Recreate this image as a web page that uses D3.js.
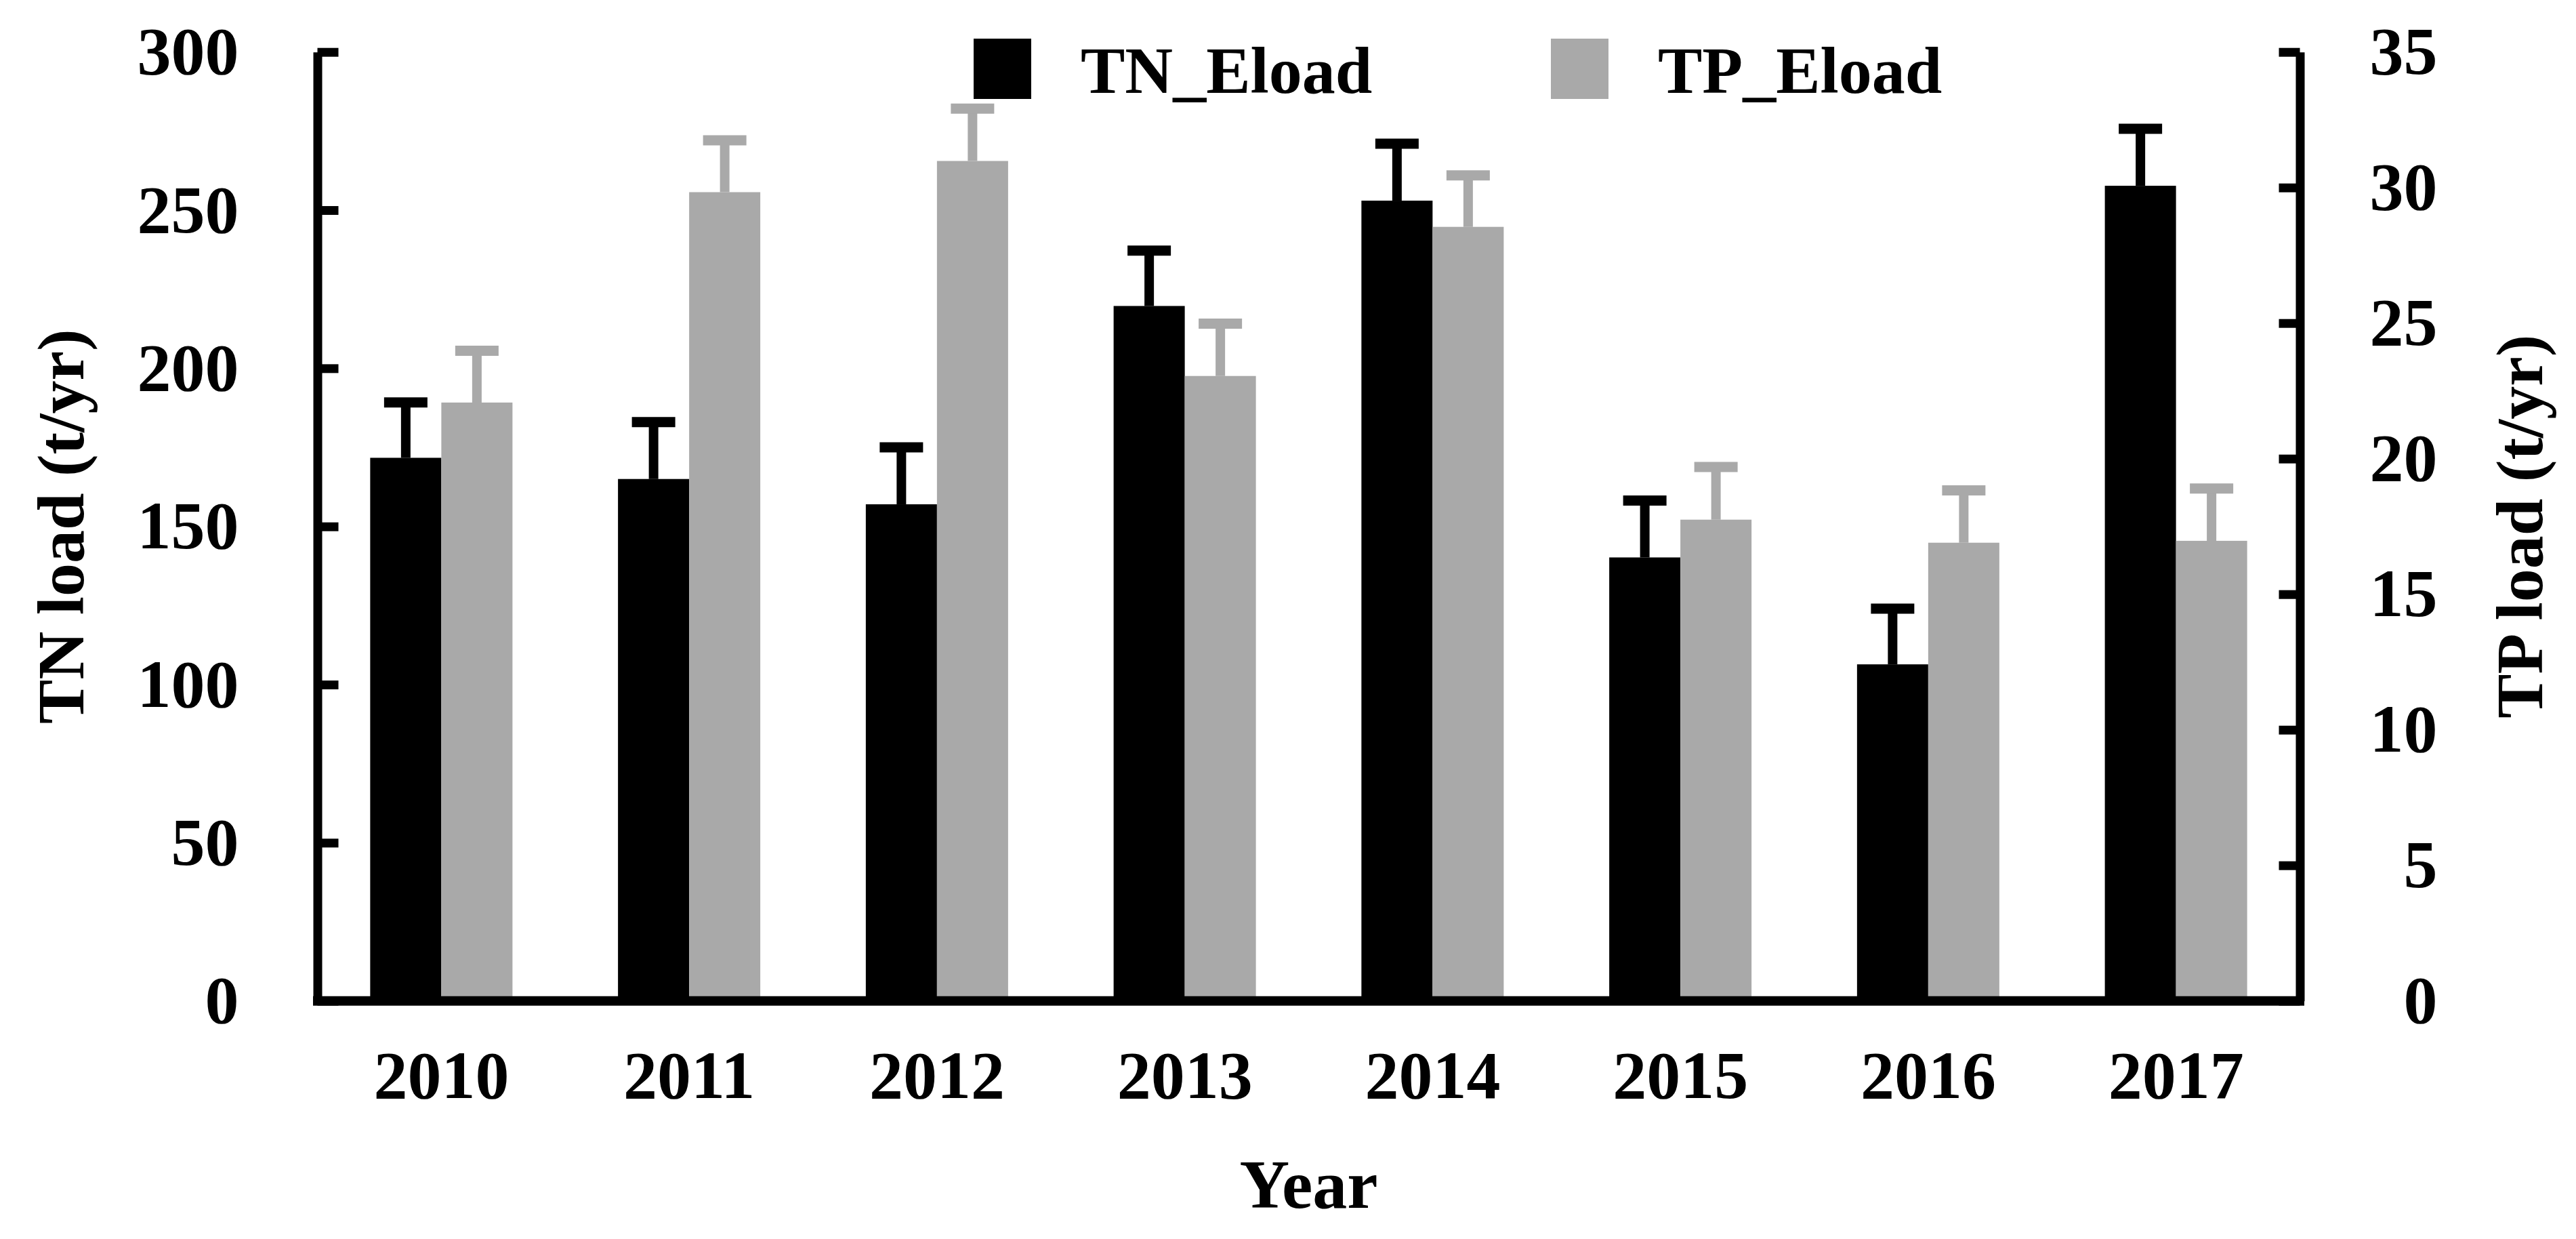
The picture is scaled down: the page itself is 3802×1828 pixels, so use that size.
<!DOCTYPE html>
<html>
<head>
<meta charset="utf-8">
<script src="https://cdn.jsdelivr.net/npm/d3@7"></script>
<style>
  html, body { margin: 0; padding: 0; background: #fff; }
  svg { display: block; }
  text { font-family: "Liberation Serif", "Times New Roman", serif; font-weight: bold; fill: #000; }
</style>
</head>
<body>
<svg id="chart" width="3802" height="1828"></svg>
<script>
// ---- data ----
const years = ["2010", "2011", "2012", "2013", "2014", "2015", "2016", "2017"];
const seriesNames = ["TN_Eload", "TP_Eload"];
const tnLoad = [171.7, 165.0, 157.0, 219.7, 253.0, 140.2, 106.4, 257.7];
const tnErr  = [17.5, 18.0, 18.0, 17.5, 18.0, 18.0, 17.6, 18.0];
const tpLoad = [22.07, 29.83, 30.98, 23.05, 28.55, 17.75, 16.90, 16.97];
const tpErr  = [1.91, 1.91, 1.93, 1.93, 1.90, 1.94, 1.93, 1.93];
const tnTicks = [0, 50, 100, 150, 200, 250, 300];
const tpTicks = [0, 5, 10, 15, 20, 25, 30, 35];
const colors = ["#000000", "#a9a9a9"];

// ---- layout ----
const pL = 468.5, pR = 3394.5, pT = 76.7, pB = 1476.7;
const svg = d3.select("#chart");

const x0 = d3.scaleBand().domain(years).range([pL, pR]).paddingInner(0.4258).paddingOuter(0.2129);
const x1 = d3.scaleBand().domain(seriesNames).range([0, x0.bandwidth()]).padding(0);
const yTN = d3.scaleLinear().domain([0, 300]).range([pB, pT]);
const yTP = d3.scaleLinear().domain([0, 35]).range([pB, pT]);

const rows = years.map((yr, i) => ({
  year: yr,
  vals: [
    { s: seriesNames[0], v: tnLoad[i], e: tnErr[i], y: yTN, c: colors[0] },
    { s: seriesNames[1], v: tpLoad[i], e: tpErr[i], y: yTP, c: colors[1] }
  ]
}));

// bars
const g = svg.append("g");
const groups = g.selectAll("g.grp").data(rows).join("g")
  .attr("class", "grp")
  .attr("transform", d => `translate(${x0(d.year)},0)`);

groups.selectAll("rect").data(d => d.vals).join("rect")
  .attr("x", d => x1(d.s))
  .attr("width", x1.bandwidth())
  .attr("y", d => d.y(d.v))
  .attr("height", d => pB - d.y(d.v))
  .attr("fill", d => d.c);

// error bars (upper only)
const capW = 64, lw = 14;
groups.selectAll("line.stem").data(d => d.vals).join("line")
  .attr("class", "stem")
  .attr("x1", d => x1(d.s) + x1.bandwidth() / 2)
  .attr("x2", d => x1(d.s) + x1.bandwidth() / 2)
  .attr("y1", d => d.y(d.v))
  .attr("y2", d => d.y(d.v + d.e))
  .attr("stroke", d => d.c).attr("stroke-width", lw);
groups.selectAll("line.cap").data(d => d.vals).join("line")
  .attr("class", "cap")
  .attr("x1", d => x1(d.s) + x1.bandwidth() / 2 - capW / 2)
  .attr("x2", d => x1(d.s) + x1.bandwidth() / 2 + capW / 2)
  .attr("y1", d => d.y(d.v + d.e))
  .attr("y2", d => d.y(d.v + d.e))
  .attr("stroke", d => d.c).attr("stroke-width", 15);

const fontFam = "'Liberation Serif', 'Times New Roman', serif";

// left axis
const axL = svg.append("g").attr("transform", `translate(${pL},0)`)
  .call(d3.axisLeft(yTN).tickValues(tnTicks).tickSizeInner(-31).tickSizeOuter(0).tickPadding(116));
axL.select(".domain").attr("stroke", "#000").attr("stroke-width", 13);
axL.selectAll(".tick line").attr("stroke", "#000").attr("stroke-width", 13);
axL.selectAll(".tick text").attr("font-size", 100).attr("dy", "0.32em")
  .style("font-family", fontFam).style("font-weight", "bold");

// right axis
const axR = svg.append("g").attr("transform", `translate(${pR},0)`)
  .call(d3.axisRight(yTP).tickValues(tpTicks).tickSizeInner(-31).tickSizeOuter(0).tickPadding(0));
axR.select(".domain").attr("stroke", "#000").attr("stroke-width", 13);
axR.selectAll(".tick line").attr("stroke", "#000").attr("stroke-width", 13);
axR.selectAll(".tick text").attr("font-size", 100).attr("dy", "0.32em")
  .attr("text-anchor", "end").attr("x", 203)
  .style("font-family", fontFam).style("font-weight", "bold");

// bottom axis line + labels
const axB = svg.append("g").attr("transform", `translate(0,${pB})`)
  .call(d3.axisBottom(x0).tickSize(0).tickPadding(0));
axB.select(".domain").remove();
axB.append("line").attr("x1", pL - 6.5).attr("x2", pR + 6.5).attr("y1", 0).attr("y2", 0)
  .attr("stroke", "#000").attr("stroke-width", 14);
axB.selectAll(".tick text").attr("font-size", 100).attr("y", 143).attr("dy", 0)
  .style("font-family", fontFam).style("font-weight", "bold");

// axis titles
svg.append("text").attr("x", (pL + pR) / 2).attr("y", 1782)
  .attr("text-anchor", "middle").attr("font-size", 102).text("Year");
svg.append("text").attr("transform", `translate(123,${(pT + pB) / 2}) rotate(-90)`)
  .attr("text-anchor", "middle").attr("font-size", 98).text("TN load (t/yr)");
svg.append("text").attr("transform", `translate(3752,${(pT + pB) / 2}) rotate(-90)`)
  .attr("text-anchor", "middle").attr("font-size", 98).text("TP load (t/yr)");

// legend
const legendX = [1437, 2289];
const leg = svg.append("g");
seriesNames.forEach((s, i) => {
  leg.append("rect").attr("x", legendX[i]).attr("y", 57).attr("width", 85).attr("height", 89).attr("fill", colors[i]);
  leg.append("text").attr("x", legendX[i] + 158).attr("y", 137).attr("font-size", 98).text(s);
});
</script>
</body>
</html>
